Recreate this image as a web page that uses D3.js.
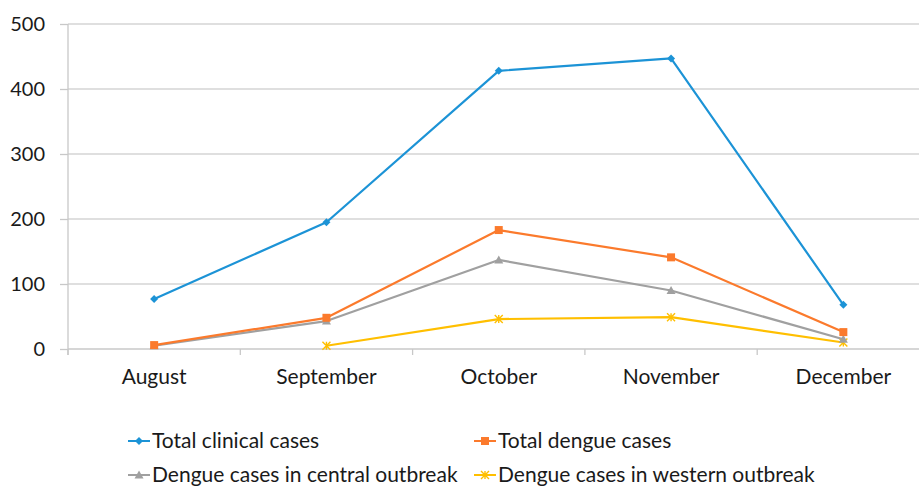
<!DOCTYPE html>
<html><head><meta charset="utf-8">
<script src="https://cdn.jsdelivr.net/npm/d3@7"></script>
<style>body{margin:0;background:#fff}svg{display:block}text{font-family:Lato,"Open Sans",sans-serif;fill:#1a1a1a}</style>
</head><body><svg id="c" width="919" height="487"></svg>
<script>
const months = ["August","September","October","November","December"];
const totalClinical = [77,195,428,447,68];
const totalDengue = [6,48,183,141,26];
const centralOutbreak = [5,43,137,90,15];
const westernOutbreak = [null,5,46,49,10];
const yTicks = [0,100,200,300,400,500];
const seriesNames = ["Total clinical cases","Total dengue cases","Dengue cases in central outbreak","Dengue cases in western outbreak"];

const series = [
  {name:seriesNames[0], values:totalClinical, color:"#1c93d6", marker:"diamond"},
  {name:seriesNames[1], values:totalDengue, color:"#fb7a2c", marker:"square"},
  {name:seriesNames[2], values:centralOutbreak, color:"#a0a0a0", marker:"triangle"},
  {name:seriesNames[3], values:westernOutbreak, color:"#ffbf00", marker:"star"}
];

const svg = d3.select("#c");
const L = 68, R = 929.5, T = 24, B = 349;
const x = d3.scaleBand().domain(months).range([L,R]).padding(0);
const y = d3.scaleLinear().domain([0,500]).range([B,T]);

// gridlines
svg.append("g").selectAll("line").data(yTicks.filter(d=>d>0)).join("line")
  .attr("x1",L).attr("x2",919).attr("y1",d=>y(d)).attr("y2",d=>y(d))
  .attr("stroke","#d4d4d4").attr("stroke-width",1.5);

// y axis
const ya = svg.append("g").attr("transform",`translate(${L},0)`)
  .call(d3.axisLeft(y).tickValues(yTicks).tickSize(8).tickPadding(15).tickFormat(d3.format("d")));
ya.select(".domain").remove();
ya.selectAll(".tick line").attr("stroke","#c8c8c8").attr("stroke-width",1.3);
ya.selectAll("text").style("font-size","20px").attr("fill","#1a1a1a");
svg.append("line").attr("x1",L).attr("x2",L).attr("y1",T).attr("y2",B+6)
  .attr("stroke","#c8c8c8").attr("stroke-width",1.3);

// x axis
svg.append("line").attr("x1",L).attr("x2",919).attr("y1",B).attr("y2",B)
  .attr("stroke","#c8c8c8").attr("stroke-width",1.5);
const bounds = months.map(m=>x(m)).concat([R]);
svg.append("g").selectAll("line").data(bounds).join("line")
  .attr("x1",d=>d).attr("x2",d=>d).attr("y1",B).attr("y2",B+6)
  .attr("stroke","#c8c8c8").attr("stroke-width",1.3);
const xa = svg.append("g").attr("transform",`translate(0,${B})`)
  .call(d3.axisBottom(x).tickSize(0).tickPadding(20));
xa.select(".domain").remove();
xa.selectAll("text").style("font-size","21px").attr("fill","#1a1a1a");

function drawMarker(g, type, cx, cy, color){
  if(type==="diamond"){
    g.append("path").attr("d",`M${cx},${cy-4}L${cx+4},${cy}L${cx},${cy+4}L${cx-4},${cy}Z`).attr("fill",color);
  } else if(type==="square"){
    g.append("rect").attr("x",cx-4).attr("y",cy-4).attr("width",8).attr("height",8).attr("fill",color);
  } else if(type==="triangle"){
    g.append("path").attr("d",`M${cx},${cy-4.5}L${cx+4.5},${cy+3.5}L${cx-4.5},${cy+3.5}Z`).attr("fill",color);
  } else {
    g.append("path").attr("d",`M${cx-4},${cy-4}L${cx+4},${cy+4}M${cx-4},${cy+4}L${cx+4},${cy-4}M${cx},${cy-4}L${cx},${cy+4}`)
      .attr("stroke",color).attr("stroke-width",1.4).attr("fill","none");
  }
}

const line = d3.line().defined(d=>d.v!=null)
  .x(d=>x(d.m)+x.bandwidth()/2).y(d=>y(d.v));

series.slice().reverse().forEach(s=>{
  const pts = months.map((m,i)=>({m, v:s.values[i]}));
  const g = svg.append("g");
  g.append("path").datum(pts).attr("d",line).attr("fill","none")
    .attr("stroke",s.color).attr("stroke-width",2.2).attr("stroke-linejoin","round");
  pts.filter(d=>d.v!=null).forEach(d=>drawMarker(g,s.marker,x(d.m)+x.bandwidth()/2,y(d.v),s.color));
});

// legend
const legPos = [[128,441],[474,441],[128,475],[474,475]];
series.forEach((s,i)=>{
  const [lx,ly] = legPos[i];
  const g = svg.append("g");
  g.append("line").attr("x1",lx).attr("x2",lx+22).attr("y1",ly).attr("y2",ly)
    .attr("stroke",s.color).attr("stroke-width",2);
  drawMarker(g,s.marker,lx+11,ly,s.color);
  g.append("text").attr("x",lx+24).attr("y",ly).attr("dy","0.35em")
    .style("font-size","21px").text(s.name);
});
</script></body></html>
